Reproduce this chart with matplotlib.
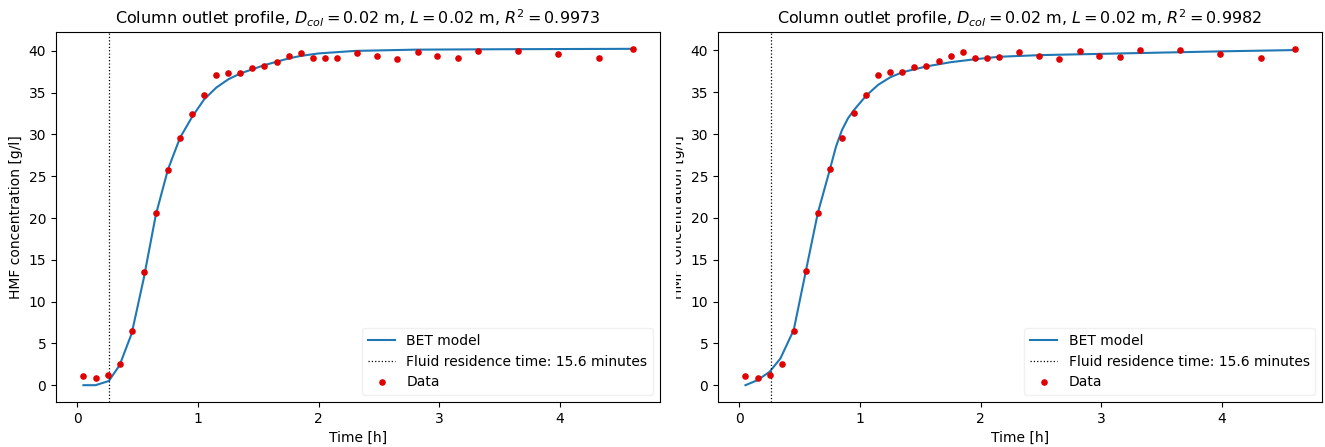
import matplotlib
matplotlib.use("Agg")
import matplotlib.pyplot as plt
from matplotlib.transforms import Bbox, TransformedBbox

# measured outlet data (same for both fits)
t_data = [0.05, 0.15, 0.25, 0.35, 0.45, 0.55, 0.65, 0.75, 0.85, 0.95, 1.05, 1.15,
          1.25, 1.35, 1.45, 1.55, 1.65, 1.75, 1.85, 1.95, 2.05, 2.15, 2.32, 2.48,
          2.65, 2.82, 2.98, 3.15, 3.32, 3.65, 3.98, 4.32, 4.6]
c_data = [1.1, 0.9, 1.2, 2.5, 6.5, 13.6, 20.6, 25.8, 29.6, 32.5, 34.7, 37.1,
          37.4, 37.4, 38.0, 38.2, 38.7, 39.35, 39.8, 39.1, 39.1, 39.2, 39.8, 39.4,
          39.0, 39.9, 39.4, 39.2, 40.0, 40.0, 39.6, 39.1, 40.2]

# BET model, left fit
t_bet1 = [0.05, 0.15, 0.26, 0.35, 0.45, 0.55, 0.65, 0.75, 0.85, 0.95, 1.05, 1.15,
          1.25, 1.35, 1.45, 1.55, 1.65, 1.75, 1.85, 2.0, 2.3, 2.8, 3.5, 4.6]
c_bet1 = [0.0, 0.0, 0.5, 2.4, 6.2, 12.8, 20.4, 25.8, 29.6, 32.1, 34.2, 35.6,
          36.6, 37.3, 37.8, 38.3, 38.7, 39.1, 39.4, 39.7, 40.0, 40.15, 40.2, 40.25]

# BET model, right fit
t_bet2 = [0.05, 0.15, 0.25, 0.34, 0.45, 0.55, 0.65, 0.75, 0.8, 0.85, 0.9, 0.95,
          1.05, 1.15, 1.25, 1.35, 1.55, 1.75, 1.95, 2.15, 2.5, 3.0, 3.5, 4.0, 4.6]
c_bet2 = [0.0, 0.6, 1.6, 3.2, 6.6, 13.6, 20.6, 25.8, 28.5, 30.5, 31.9, 32.9,
          34.6, 35.9, 36.8, 37.4, 38.1, 38.6, 38.95, 39.25, 39.45, 39.6, 39.75, 39.9, 40.05]

r2_values = [0.9973, 0.9982]
t_res = 15.6 / 60  # fluid residence time in hours

fig = plt.figure(figsize=(13.25, 4.47), dpi=100)
ax1 = fig.add_axes([56/1325, 45/447, 604/1325, 370/447])
ax2 = fig.add_axes([718/1325, 45/447, 604/1325, 370/447])

for ax, tb, cb, r2 in [(ax1, t_bet1, c_bet1, r2_values[0]),
                       (ax2, t_bet2, c_bet2, r2_values[1])]:
    ax.plot(tb, cb, color='C0', label='BET model')
    ax.axvline(t_res, color='k', linestyle=':', linewidth=0.9,
               label='Fluid residence time: 15.6 minutes')
    ax.plot(t_data, c_data, '.', color='#e00000', markersize=7.5, label='Data')
    ax.set_title(r'Column outlet profile, $D_{col} = 0.02$ m, $L = 0.02$ m, $R^2 = %.4f$' % r2,
                 fontsize=11.5)
    ax.set_xlabel('Time [h]')
    ax.set_ylabel('HMF concentration [g/l]')
    leg = ax.legend(loc='lower right')
    leg.get_frame().set_edgecolor('0.93')

# right panel's y label is partly hidden behind the left panel in the original
lab = ax2.yaxis.label
lab.set_clip_on(True)
lab.set_clip_box(TransformedBbox(Bbox([[676/1325, 0], [1, 1]]), fig.transFigure))

fig.savefig('out.png', dpi=100)
